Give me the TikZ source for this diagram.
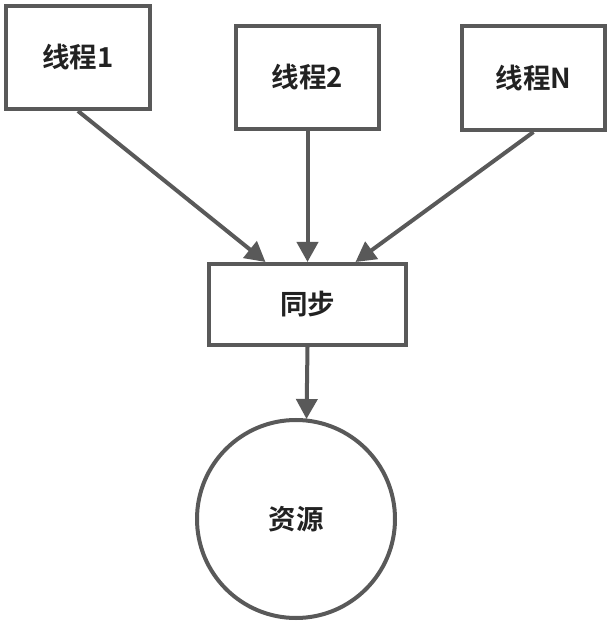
\documentclass[tikz,border=0pt]{standalone}
\usepackage{fontspec}
\newfontfamily\cjk{Noto Sans CJK SC}[BoldFont={Noto Sans CJK SC Bold}]
\usetikzlibrary{arrows.meta}
\definecolor{edgegray}{HTML}{595959}
\definecolor{txt}{HTML}{222222}
\begin{document}
\begin{tikzpicture}[x=1pt,y=1pt,
  box/.style={draw=edgegray,line width=4pt,fill=white,inner sep=0pt,
    font=\cjk\bfseries\fontsize{27.5}{32}\selectfont,text=txt},
  res/.style={circle,draw=edgegray,line width=4pt,inner sep=0pt,minimum size=198pt,
    font=\cjk\bfseries\fontsize{27.5}{32}\selectfont,text=txt},
  conn/.style={draw=edgegray,line width=4pt,-{Triangle[length=20pt,width=21pt]}}]
\useasboundingbox (0,0) rectangle (612,624);
\node[box,minimum width=144pt,minimum height=103pt] (t1) at (78,566.5) {线程1};
\node[box,minimum width=143pt,minimum height=103pt] (t2) at (307.5,546.5) {线程2};
\node[box,minimum width=143pt,minimum height=104pt] (tn) at (533.5,546) {线程N};
\node[box,minimum width=197pt,minimum height=81pt] (sync) at (307.5,319.5) {同步};
\node[res] (res) at (296,105) {资源};
\coordinate (a1) at ([xshift=-42pt]sync.north);
\coordinate (a2) at (sync.north);
\coordinate (a3) at ([xshift=48pt]sync.north);
\coordinate (a4) at ([xshift=-1pt,yshift=-1pt]sync.south |- res.north);
\draw[conn] (t1.south) -- (a1);
\draw[conn] (t2.south) -- (a2);
\draw[conn] (tn.south) -- (a3);
\draw[conn] (sync.south) -- (a4);
\end{tikzpicture}
\end{document}
